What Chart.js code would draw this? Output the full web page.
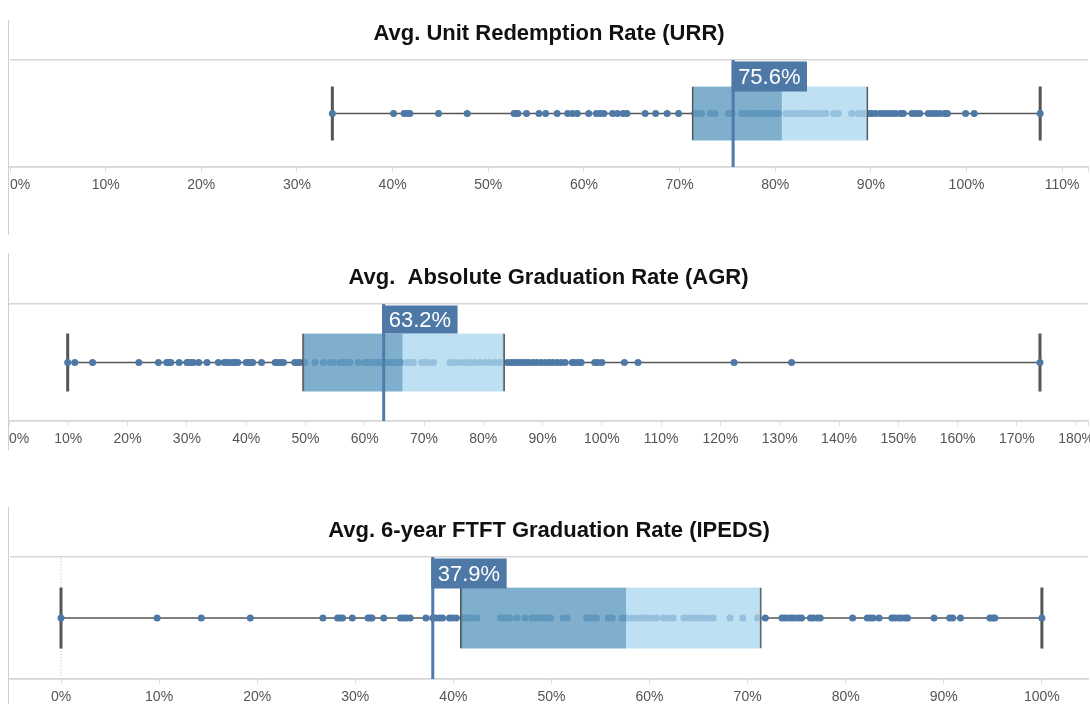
<!DOCTYPE html>
<html>
<head>
<meta charset="utf-8">
<script src="https://cdn.jsdelivr.net/npm/chart.js@4.4.1/dist/chart.umd.min.js"></script>
<style>
  html, body { margin: 0; padding: 0; background: #fff; }
  body { width: 1090px; height: 704px; position: relative; overflow: hidden; }
  .panel { position: absolute; left: 8px; width: 1082px; border-left: 1px solid #cfcfcf; }
  .plot { position: absolute; }
</style>
</head>
<body>
  <div class="panel" style="top:20px;height:215px"><div class="plot" style="left:-4px;width:1088px;top:0;height:179px"><canvas id="urrChart"></canvas></div></div>
  <div class="panel" style="top:253px;height:197px"><div class="plot" style="left:-5px;width:1089px;top:11px;height:189px"><canvas id="agrChart"></canvas></div></div>
  <div class="panel" style="top:507px;height:197px"><div class="plot" style="left:0;width:1082px;top:10px;height:194px"><canvas id="ipedsChart"></canvas></div></div>

<script>
// ── Values (all in percent) ──
const panelTitles = [
  'Avg. Unit Redemption Rate (URR)',
  'Avg.  Absolute Graduation Rate (AGR)',
  'Avg. 6-year FTFT Graduation Rate (IPEDS)',
];

const urrRates = [
  33.7, 40.1, 41.2, 41.5, 41.8, 44.8, 47.8, 52.7, 52.9, 53.1, 54.0, 55.3, 56.0, 57.2, 58.3,
  58.8, 59.3, 60.5, 61.3, 61.7, 62.1, 63.0, 63.5, 64.1, 64.5, 66.4, 67.5, 68.7, 69.9, 71.6,
  71.9, 72.3, 73.2, 73.7, 75.1, 75.5, 76.5, 76.8, 77.1, 77.5, 77.8, 78.1, 78.4, 78.7, 79.0,
  79.4, 79.7, 80.0, 80.3, 81.1, 81.5, 82.0, 82.4, 82.8, 83.2, 83.6, 84.0, 84.5, 84.9, 85.3,
  86.1, 86.6, 88.0, 88.7, 89.1, 89.5, 89.9, 90.1, 90.5, 91.0, 91.4, 91.8, 92.2, 92.6, 93.1,
  93.4, 94.3, 94.7, 95.1, 96.0, 96.4, 96.8, 97.2, 97.7, 98.0, 99.9, 100.8, 107.7,
];

const agrRates = [
  9.9, 11.1, 14.1, 21.9, 25.2, 26.6, 27.0, 27.3, 28.7, 30.0, 30.4, 30.8, 31.1, 32.0, 33.4,
  35.3, 36.3, 36.7, 37.1, 37.7, 38.1, 38.6, 40.0, 40.4, 40.8, 41.1, 42.6, 44.9, 45.3, 45.8,
  46.3, 48.2, 48.7, 49.1, 49.9, 51.6, 53.0, 54.1, 54.7, 55.8, 56.4, 56.9, 57.5, 58.9, 60.0,
  60.5, 61.0, 61.6, 62.1, 62.6, 63.1, 63.6, 64.1, 64.6, 65.1, 65.6, 66.1, 67.1, 67.6, 68.2,
  69.6, 70.2, 70.7, 71.6, 74.4, 75.2, 76.1, 76.9, 77.7, 78.6, 79.4, 80.3, 81.1, 82.0, 82.8,
  84.1, 84.7, 85.2, 85.7, 86.2, 86.7, 87.2, 87.7, 88.4, 89.0, 89.7, 90.4, 91.1, 91.7, 92.4,
  93.1, 93.8, 95.0, 95.4, 96.0, 96.5, 98.8, 99.3, 100.0, 103.8, 106.1, 122.3, 132.0, 173.9,
];

const ipedsRates = [
  0, 9.8, 14.3, 19.3, 26.7, 28.2, 28.4, 28.7, 29.7, 31.3, 31.5, 31.7, 32.9, 34.6, 34.9,
  35.2, 35.6, 37.2, 37.9, 38.2, 38.6, 38.9, 39.6, 39.9, 40.3, 41.0, 41.4, 41.7, 42.0, 42.4,
  44.8, 45.1, 45.4, 45.8, 46.5, 47.3, 48.0, 48.3, 48.7, 49.2, 49.5, 49.9, 51.2, 51.6, 53.6,
  53.9, 54.3, 54.6, 55.8, 56.2, 57.2, 57.7, 58.2, 58.7, 59.2, 59.7, 60.2, 60.7, 61.4, 61.9,
  62.4, 63.5, 64.0, 64.5, 65.0, 65.5, 66.0, 66.5, 68.2, 69.5, 71.0, 71.8, 73.5, 73.8, 74.2,
  74.5, 74.8, 75.2, 75.5, 76.4, 76.7, 77.1, 77.4, 80.7, 82.2, 82.5, 82.8, 83.4, 84.7, 85.0,
  85.4, 85.7, 86.1, 86.3, 89.0, 90.6, 90.9, 91.7, 94.7, 95.0, 95.2, 100,
];

// five-number summaries: min, Q1, median, Q3, max
const urrBox   = [33.7, 71.3, 80.7, 89.7, 107.7];
const agrBox   = [9.9, 49.5, 66.4, 83.6, 173.9];
const ipedsBox = [0, 40.7, 57.6, 71.4, 100];

// reference line (average) per panel
const avgRates = [75.6, 63.2, 37.9];

// x axis ranges and tick values
const axisMins = [0, 0, -5.2];
const axisMaxs = [112.7, 182, 104.7];
const urrTicks   = [0, 10, 20, 30, 40, 50, 60, 70, 80, 90, 100, 110];
const agrTicks   = [0, 10, 20, 30, 40, 50, 60, 70, 80, 90, 100, 110, 120, 130, 140, 150, 160, 170, 180];
const ipedsTicks = [0, 10, 20, 30, 40, 50, 60, 70, 80, 90, 100];

// ── Colours ──
const DOT       = '#4e79a7';
const BOX_DARK  = 'rgba(99,157,194,0.82)';
const BOX_LIGHT = 'rgba(171,215,240,0.77)';
const WHISKER   = '#555555';
const REF_LINE  = '#4f7cab';
const LABEL_BG  = '#4e79a7';
const FRAME     = '#d6d6d6';
const FONT      = "'Liberation Sans', Arial, sans-serif";

// ── Average label drawn on top of the reference line ──
const avgLabel = {
  id: 'avgLabel',
  afterDatasetsDraw(chart, args, opts) {
    const { ctx, chartArea, scales: { x } } = chart;
    const px = x.getPixelForValue(opts.value) - 1.5;
    const text = opts.value.toFixed(1) + '%';
    ctx.save();
    ctx.font = `22px ${FONT}`;
    const w = ctx.measureText(text).width + 13;
    const top = chartArea.top + 1.5;
    ctx.fillStyle = LABEL_BG;
    ctx.fillRect(px, top, w, opts.height);
    ctx.fillStyle = '#fff';
    ctx.textBaseline = 'middle';
    ctx.fillText(text, px + 6.5, top + opts.height / 2 + 1);
    ctx.restore();
  },
};

function makePanel(canvasId, i, rates, box, tickVals, boxPx, labelH, innerTicks, pad) {
  const [lo, q1, med, q3, hi] = box;
  const mid = 0.5;
  const avg = avgRates[i];

  const datasets = [
    { type: 'scatter', data: [{ x: avg, y: 0 }, { x: avg, y: 1 }], showLine: true,
      borderColor: REF_LINE, borderWidth: 3, pointRadius: 0, order: 0 },
    { type: 'bar', indexAxis: 'y', data: [{ x: [q1, med], y: mid }], backgroundColor: BOX_DARK,
      borderColor: WHISKER, borderWidth: { left: 1.5, right: 0, top: 0, bottom: 0 },
      borderSkipped: false, barThickness: boxPx, grouped: false, order: 1 },
    { type: 'bar', indexAxis: 'y', data: [{ x: [med, q3], y: mid }], backgroundColor: BOX_LIGHT,
      borderColor: WHISKER, borderWidth: { left: 0, right: 1.5, top: 0, bottom: 0 },
      borderSkipped: false, barThickness: boxPx, grouped: false, order: 1 },
    { type: 'scatter', data: rates.map(v => ({ x: v, y: mid })), pointRadius: 3.5,
      backgroundColor: DOT, borderWidth: 0, order: 2 },
    { type: 'scatter', data: [{ x: lo, y: mid }, { x: hi, y: mid }], pointStyle: 'line', rotation: 90,
      pointRadius: boxPx / 2, borderColor: WHISKER, borderWidth: 3, order: 3 },
    { type: 'scatter', data: [{ x: lo, y: mid }, { x: q1, y: mid }], showLine: true,
      borderColor: WHISKER, borderWidth: 1.5, pointRadius: 0, order: 4 },
    { type: 'scatter', data: [{ x: q3, y: mid }, { x: hi, y: mid }], showLine: true,
      borderColor: WHISKER, borderWidth: 1.5, pointRadius: 0, order: 4 },
  ];
  // dotted zero line when the axis starts below 0
  if (axisMins[i] < 0) {
    datasets.push({ type: 'scatter', data: [{ x: 0, y: 0 }, { x: 0, y: 1 }], showLine: true,
      borderColor: '#bdbdbd', borderWidth: 1, borderDash: [1, 2], pointRadius: 0, order: 5 });
  }

  return new Chart(document.getElementById(canvasId), {
    type: 'scatter',
    data: { datasets },
    plugins: [avgLabel],
    options: {
      responsive: true,
      maintainAspectRatio: false,
      animation: false,
      events: [],
      layout: { autoPadding: false, padding: { left: pad[0], right: pad[1], top: 0, bottom: 0 } },
      plugins: {
        legend: { display: false },
        tooltip: { enabled: false },
        title: {
          display: true,
          text: panelTitles[i],
          color: '#111',
          font: { family: FONT, size: 22, weight: 'bold' },
          padding: { top: 1, bottom: 12.6 },
        },
        avgLabel: { value: avg, height: labelH },
      },
      scales: {
        x: {
          type: 'linear',
          min: axisMins[i],
          max: axisMaxs[i],
          offset: false,
          border: { color: FRAME, width: 1.5 },
          grid: { offset: false, drawOnChartArea: false, drawTicks: true, tickLength: 5, tickColor: '#e0e0e0' },
          afterBuildTicks: s => {
            s.ticks = tickVals.map(v => ({ value: v }));
            // blank end tick so 'inner' keeps the first label left-aligned only
            if (innerTicks) s.ticks.push({ value: s.max });
          },
          ticks: {
            autoSkip: false,
            maxRotation: 0,
            padding: 5,
            align: innerTicks ? 'inner' : 'center',
            color: '#555',
            font: { family: FONT, size: 14 },
            callback: v => (tickVals.includes(v) ? `${v}%` : ''),
          },
        },
        y: {
          type: 'linear',
          min: 0,
          max: 1,
          offset: false,
          border: { display: false },
          grid: { offset: false, color: FRAME, lineWidth: 1.5, drawTicks: false },
          afterBuildTicks: s => { s.ticks = [{ value: 0 }, { value: 1 }]; },
          ticks: { display: false },
        },
      },
    },
  });
}

makePanel('urrChart', 0, urrRates, urrBox, urrTicks, 54, 30, true, [0, 0]);
makePanel('agrChart', 1, agrRates, agrBox, agrTicks, 58, 28, true, [0, 0]);
makePanel('ipedsChart', 2, ipedsRates, ipedsBox, ipedsTicks, 61, 30, false, [1, 3]);
</script>
</body>
</html>
